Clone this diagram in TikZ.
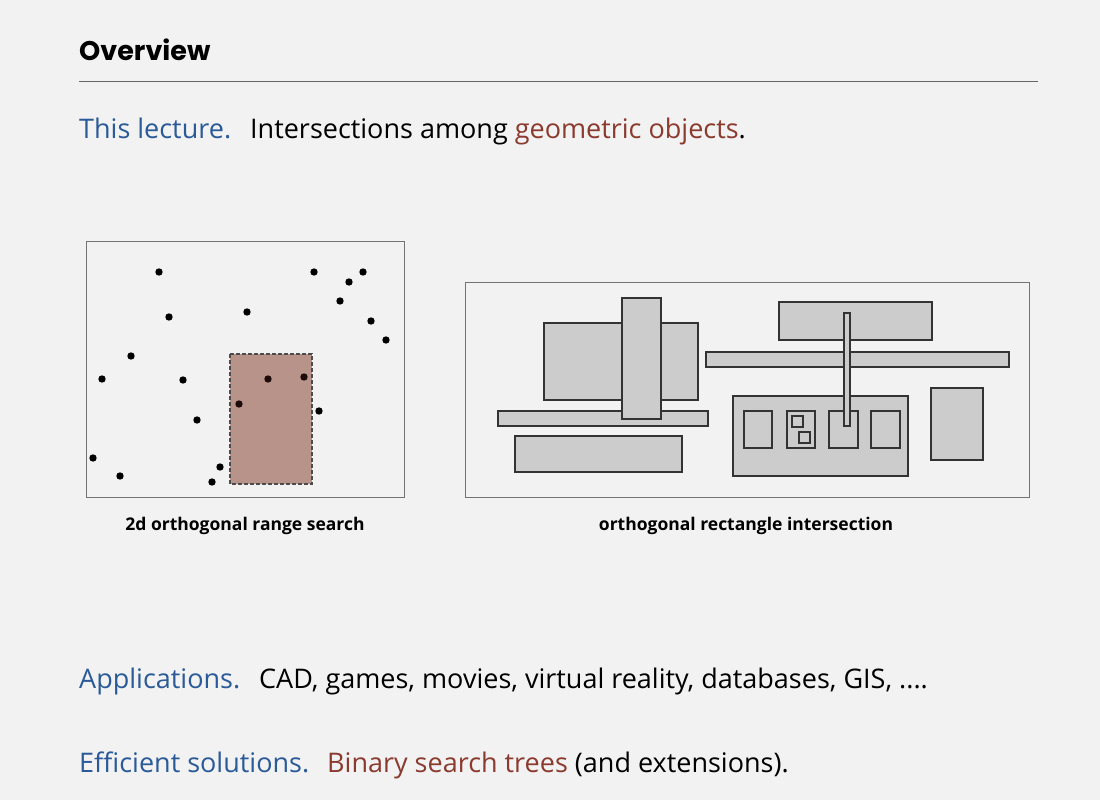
\documentclass[tikz,border=0pt]{standalone}
\usepackage{fontspec}
\setmainfont{Open Sans}
\newfontfamily\titlefont{Poppins}
\definecolor{slidebg}{HTML}{F2F2F2}
\definecolor{headblue}{HTML}{2A5A98}
\definecolor{termred}{HTML}{8B3A2E}
\definecolor{rangefill}{HTML}{B8938A}
\definecolor{rectgray}{HTML}{CCCCCC}
\tikzset{
  txt/.style={anchor=base west,inner sep=0pt,font=\fontsize{27}{32}\selectfont},
  caption/.style={anchor=base,inner sep=0pt,font=\bfseries\fontsize{17.5}{20}\selectfont},
  panel/.style={draw=black!55,line width=1pt},
  orect/.style={draw=black!80,fill=rectgray,line width=1.1pt}
}
\begin{document}
\begin{tikzpicture}[x=1pt,y=-1pt]
        \fill[slidebg] (0,0) rectangle (1100,800);
        \useasboundingbox (0,0) rectangle (1100,800);
        % title
        \node[anchor=base west,inner sep=0pt,font=\titlefont\bfseries\fontsize{27}{32}\selectfont] (title) at (79,60) {Overview};
        \draw[black!60,line width=1pt] (79,81) -- (1038,81);
        \node[txt,text=headblue] (lect) at (79,138) {This lecture.};
        \node[txt] (lecttxt) at (250,138) {Intersections among \textcolor{termred}{geometric objects}.};
        % range search
        \draw[panel] (86,241) rectangle (404,497);
        \fill[rangefill] (230,354) rectangle (312,484);
        \draw[dash pattern=on 4pt off 2pt,black!70,line width=1.2pt] (230,354) rectangle (312,484);
        \foreach \p in {(159,272),(314,272),(363,272),(349,282),(340,301),(169,317),(247,312),
                        (371,321),(386,340),(131,356),(102,379),(183,380),(319,411),(197,420),
                        (93,458),(120,476),(220,467),(212,482)}
          \fill \p circle (3.7pt);
        \foreach \p in {(268,379),(304,377),(239,404)}
          \fill[black!80!termred] \p circle (3.7pt);
        \node[caption] (rangelab) at (245,530) {2d orthogonal range search};
        % rectangle intersection
        \draw[panel] (465,282) rectangle (1029,497);
        \draw[orect] (544,323) rectangle (698,400);
        \draw[orect] (498,411) rectangle (708,426);
        \draw[orect] (622,298) rectangle (661,419);
        \draw[orect] (515,436) rectangle (682,472);
        \draw[orect] (779,302) rectangle (932,340);
        \draw[orect] (706,352) rectangle (1009,367);
        \draw[orect] (733,396) rectangle (908,476);
        \draw[orect] (744,411) rectangle (772,448);
        \draw[orect] (787,411) rectangle (815,448);
        \draw[orect] (829,411) rectangle (858,448);
        \draw[orect] (871,411) rectangle (900,448);
        \draw[orect] (792,416) rectangle (803,427);
        \draw[orect] (799,432) rectangle (810,443);
        \draw[orect] (931,388) rectangle (983,460);
        \draw[orect] (844,313) rectangle (850,426);
        \node[caption] (rectlab) at (746,530) {orthogonal rectangle intersection};
        % bottom lines
        \node[txt,text=headblue] (app) at (79,688) {Applications.};
        \node[txt] (apptxt) at (259,688) {CAD, games, movies, virtual reality, databases, GIS, ....};
        \node[txt,text=headblue] (eff) at (79,772) {Efficient solutions.};
        \node[txt] (efftxt) at (327,772) {\textcolor{termred}{Binary search trees} (and extensions).};
\end{tikzpicture}
\end{document}
